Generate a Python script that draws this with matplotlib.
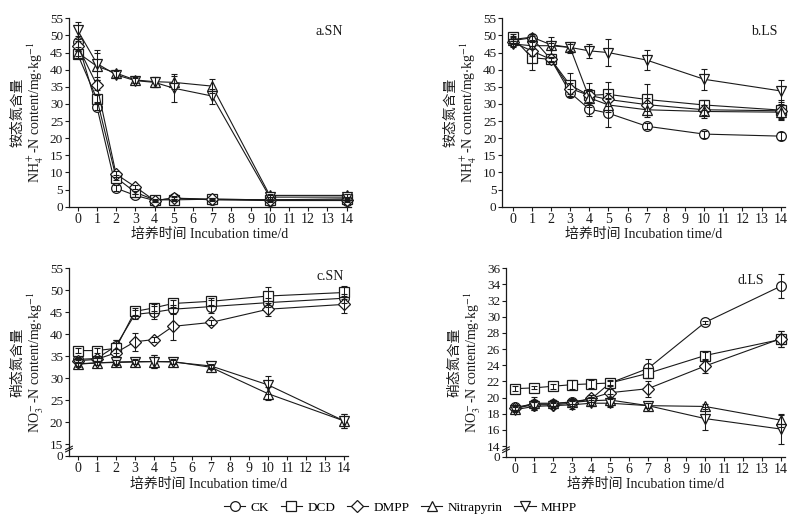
import matplotlib
matplotlib.use("Agg")
import matplotlib.pyplot as plt
from matplotlib.lines import Line2D

plt.rcParams['font.family'] = ['Liberation Serif', 'Noto Sans CJK SC']
plt.rcParams['mathtext.fontset'] = 'stix'

days = [0, 1, 2, 3, 4, 5, 7, 10, 14]
treatments = ['CK', 'DCD', 'DMPP', 'Nitrapyrin', 'MHPP']
markers = ['o', 's', 'D', '^', 'v']
msizes = [7, 6.5, 6, 7.5, 7.5]

# a. NH4+-N, SN soil
a_CK = [48.2, 29.2, 5.4, 3.3, 1.8, 2.5, 2.0, 1.8, 1.8]
a_DCD = [44.5, 31.5, 8.5, 4.2, 2.0, 2.0, 2.2, 2.0, 2.3]
a_DMPP = [47.0, 35.5, 9.5, 5.8, 1.8, 2.5, 2.2, 2.0, 2.0]
a_NIT = [45.0, 41.0, 39.0, 37.0, 36.5, 36.3, 35.2, 3.3, 3.3]
a_MHPP = [51.5, 41.8, 38.5, 36.8, 36.3, 34.6, 32.3, 2.8, 2.8]
a_err = [
    [1.5, 1.0, 0.8, 0.5, 0.3, 0.3, 0.3, 0.3, 0.3],
    [1.0, 1.0, 0.8, 0.5, 0.3, 0.3, 0.3, 0.3, 0.3],
    [1.5, 1.5, 0.8, 0.5, 0.3, 0.5, 0.3, 0.3, 0.3],
    [1.0, 4.0, 1.0, 0.8, 1.5, 2.0, 2.0, 0.5, 0.5],
    [2.5, 4.0, 1.0, 0.8, 1.5, 4.0, 2.2, 0.5, 0.8],
]

# b. NH4+-N, LS soil
b_CK = [48.5, 49.3, 43.0, 33.3, 28.5, 27.3, 23.5, 21.2, 20.6]
b_DCD = [49.5, 43.5, 43.0, 35.5, 32.5, 32.8, 31.3, 29.7, 28.2]
b_DMPP = [48.0, 45.5, 43.0, 34.5, 32.5, 31.3, 29.8, 28.3, 28.0]
b_NIT = [48.8, 49.5, 47.3, 46.5, 31.8, 29.7, 28.3, 27.8, 27.6]
b_MHPP = [47.5, 47.0, 47.0, 46.5, 45.5, 45.0, 42.8, 37.2, 33.8]
b_err = [
    [1.0, 0.5, 0.5, 1.0, 2.0, 4.0, 0.8, 1.0, 1.2],
    [1.0, 3.5, 0.8, 3.5, 3.5, 3.5, 4.5, 1.5, 3.0],
    [1.0, 1.5, 0.8, 1.5, 2.0, 2.0, 2.0, 1.5, 2.0],
    [1.0, 1.0, 0.5, 1.0, 2.0, 2.0, 2.0, 2.0, 2.0],
    [1.0, 1.0, 2.5, 1.5, 2.0, 4.0, 3.0, 3.0, 3.3],
]

# c. NO3--N, SN soil
c_CK = [34.3, 34.5, 37.3, 44.5, 45.0, 45.7, 46.3, 47.2, 48.2]
c_DCD = [36.3, 36.3, 36.8, 45.2, 46.0, 47.0, 47.5, 48.7, 49.5]
c_DMPP = [34.0, 34.3, 35.8, 38.3, 38.8, 41.8, 42.7, 45.7, 46.8]
c_NIT = [33.2, 33.5, 33.7, 33.8, 33.8, 33.8, 32.5, 26.5, 20.3]
c_MHPP = [33.3, 33.5, 33.6, 33.7, 33.8, 33.7, 32.8, 28.5, 20.3]
c_err = [
    [0.5, 0.5, 1.5, 1.0, 1.5, 1.0, 1.5, 1.0, 1.0],
    [0.5, 0.5, 2.0, 0.8, 0.8, 0.8, 0.8, 2.0, 1.5],
    [0.5, 0.5, 0.8, 2.0, 0.5, 3.0, 0.5, 1.5, 2.0],
    [0.5, 0.5, 0.5, 0.5, 1.5, 0.5, 0.5, 1.5, 1.5],
    [0.8, 0.5, 0.5, 0.5, 1.5, 0.5, 0.5, 2.0, 1.5],
]

# d. NO3--N, LS soil
d_CK = [18.8, 19.2, 19.2, 19.5, 19.8, 21.8, 23.6, 29.3, 33.8]
d_DCD = [21.1, 21.2, 21.4, 21.6, 21.7, 21.8, 23.0, 25.2, 27.2]
d_DMPP = [18.7, 19.1, 19.1, 19.3, 19.9, 20.6, 21.1, 23.9, 27.3]
d_NIT = [18.6, 19.3, 19.3, 19.4, 19.6, 19.7, 19.0, 18.9, 17.2]
d_MHPP = [18.5, 18.9, 19.0, 19.1, 19.3, 19.3, 19.0, 17.4, 16.1]
d_err = [
    [0.3, 0.5, 0.3, 0.3, 0.3, 0.3, 1.2, 0.2, 1.5],
    [0.3, 0.2, 0.3, 0.6, 0.5, 0.4, 0.6, 0.4, 1.0],
    [0.3, 0.3, 0.3, 0.3, 0.4, 0.5, 1.0, 0.8, 1.0],
    [0.3, 0.8, 0.4, 0.4, 0.5, 0.8, 0.3, 0.3, 0.8],
    [0.3, 0.5, 0.3, 0.5, 0.4, 0.5, 0.3, 1.4, 1.8],
]

xtick_labels = [str(i) for i in range(15)]
xlabel = '培养时间 Incubation time/d'
ylab_nh4 = '铵态氮含量\nNH$_4^+$-N content/mg$\\cdot$kg$^{-1}$'
ylab_no3 = '硝态氮含量\nNO$_3^-$-N content/mg$\\cdot$kg$^{-1}$'

fig = plt.figure(figsize=(8.01, 5.24), dpi=100)
W, H = 801.0, 524.0

def make_ax(left_px, right_px, bottom_px, top_px):
    return fig.add_axes([left_px / W, 1 - bottom_px / H,
                         (right_px - left_px) / W, (bottom_px - top_px) / H])

axa = make_ax(69, 350.5, 206.7, 18.3)
axb = make_ax(502.3, 784.5, 206.7, 18.3)
axc = make_ax(69, 348.0, 456.0, 268.3)
axd = make_ax(506, 784.8, 456.7, 268.3)

panels = [
    (axa, [a_CK, a_DCD, a_DMPP, a_NIT, a_MHPP], a_err, (-0.45, 14.2), (0, 55),
     list(range(0, 56, 5)), None, 'a.SN', ylab_nh4, (0.975, 0.965)),
    (axb, [b_CK, b_DCD, b_DMPP, b_NIT, b_MHPP], b_err, (-0.54, 14.2), (0, 55),
     list(range(0, 56, 5)), None, 'b.LS', ylab_nh4, (0.975, 0.965)),
    (axc, [c_CK, c_DCD, c_DMPP, c_NIT, c_MHPP], c_err, (-0.457, 14.2), (12.34, 55),
     list(range(15, 56, 5)), 12.34, 'c.SN', ylab_no3, (0.985, 0.99)),
    (axd, [d_CK, d_DCD, d_DMPP, d_NIT, d_MHPP], d_err, (-0.47, 14.2), (12.68, 36),
     list(range(14, 37, 2)), 12.68, 'd.LS', ylab_no3, (0.925, 0.97)),
]

ink = '#1a1a1a'
for ax, series, errs, xl, yl, yt, zero_pos, title, ylab, tpos in panels:
    for k, (vals, e) in enumerate(zip(series, errs)):
        ax.plot(days, vals, color=ink, lw=0.8, marker=markers[k], ms=msizes[k],
                mfc='white', mec=ink, mew=0.9, zorder=3 + k * 0.1, clip_on=False)
    for k, (vals, e) in enumerate(zip(series, errs)):
        ax.errorbar(days, vals, yerr=e, fmt='none', ecolor=ink, elinewidth=0.75,
                    capsize=2.2, capthick=0.8, zorder=5, clip_on=False)
    ax.set_xlim(*xl)
    ax.set_ylim(*yl)
    ax.set_xticks(range(15))
    ax.set_xticklabels(xtick_labels)
    if zero_pos is None:
        ax.set_yticks(yt)
        ax.set_yticklabels([str(v) for v in yt])
    else:
        ax.set_yticks([zero_pos] + yt)
        ax.set_yticklabels(['0'] + [str(v) for v in yt])
        # axis break marks
        for dy in (0.0, 0.012):
            ax.plot([-0.012, 0.012], [0.022 + dy, 0.04 + dy], transform=ax.transAxes,
                    color=ink, lw=0.8, clip_on=False, zorder=10)
    for s in ('top', 'right'):
        ax.spines[s].set_visible(False)
    for s in ('left', 'bottom'):
        ax.spines[s].set_linewidth(0.9)
        ax.spines[s].set_color(ink)
    ax.tick_params(direction='out', length=3, width=0.8, labelsize=10,
                   pad=1.5, colors=ink)
    ax.tick_params(axis='y', labelsize=9.5, pad=1.2)
    ax.set_xlabel(xlabel, fontsize=10, labelpad=1.5, color=ink)
    ax.set_ylabel(ylab, fontsize=10, labelpad=3, color=ink, linespacing=1.1)
    ax.text(tpos[0], tpos[1], title, transform=ax.transAxes, ha='right', va='top',
            fontsize=10, color=ink)

handles = []
for k, name in enumerate(treatments):
    handles.append(Line2D([0], [0], color=ink, lw=0.8, marker=markers[k],
                          ms=msizes[k], mfc='white', mec=ink, mew=0.9,
                          label=name))

fig.legend(handles=handles, loc='center', bbox_to_anchor=(0.5, 0.031), ncol=5,
           frameon=False, fontsize=9.5, handlelength=1.6, handletextpad=0.4,
           columnspacing=0.9, borderpad=0.2)

fig.savefig('out.png', dpi=100)
